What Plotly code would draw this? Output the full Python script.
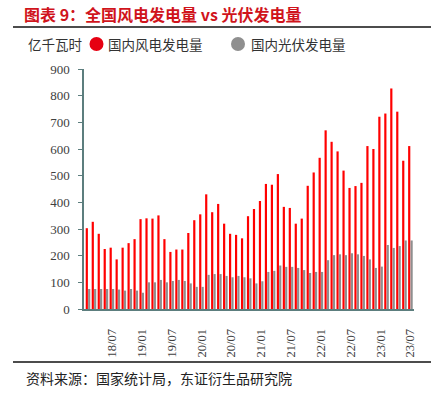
import plotly.graph_objects as go

# ---------------- data ----------------
categories = [
    "18/03", "18/04", "18/05", "18/06", "18/07", "18/08", "18/09", "18/10", "18/11", "18/12",
    "19/03", "19/04", "19/05", "19/06", "19/07", "19/08", "19/09", "19/10", "19/11", "19/12",
    "20/03", "20/04", "20/05", "20/06", "20/07", "20/08", "20/09", "20/10", "20/11", "20/12",
    "21/03", "21/04", "21/05", "21/06", "21/07", "21/08", "21/09", "21/10", "21/11", "21/12",
    "22/03", "22/04", "22/05", "22/06", "22/07", "22/08", "22/09", "22/10", "22/11", "22/12",
    "23/03", "23/04", "23/05", "23/06", "23/07",
]
wind = [
    303, 327, 282, 225, 230, 186, 230, 247, 262, 337,
    340, 339, 351, 262, 214, 223, 223, 285, 333, 355,
    430, 363, 394, 320, 282, 278, 265, 348, 375, 405,
    469, 466, 506, 383, 379, 320, 339, 462, 512, 567,
    670, 627, 591, 519, 454, 461, 473, 611, 600, 721,
    733, 827, 740, 556, 611,
]
solar = [
    75, 75, 75, 75, 75, 73, 69, 75, 69, 61,
    100, 100, 109, 100, 105, 109, 105, 96, 83, 83,
    128, 131, 131, 124, 119, 124, 119, 115, 96, 104,
    139, 143, 163, 158, 158, 154, 146, 135, 139, 139,
    183, 202, 205, 202, 209, 205, 199, 186, 154, 159,
    240, 229, 236, 257, 257,
]
tick_labels = ["18/07", "19/01", "19/07", "20/01", "20/07", "21/01",
               "21/07", "22/01", "22/07", "23/01", "23/07"]
tick_positions = categories[4::5]

wind_name = "国内风电发电量"
solar_name = "国内光伏发电量"
unit_label = "亿千瓦时"
title_text = "图表 9：全国风电发电量 vs 光伏发电量"
source_text = "资料来源：国家统计局，东证衍生品研究院"

# ---------------- layout helpers (page pixel coords) ----------------
W, H = 438, 396
PL, PR, PT, PB = 84, 414, 69, 309    # plot box in pixels
L, T, R, B = PL, PT, W - PR, H - PB
PW, PH = PR - PL, PB - PT


def px(x):
    return (x - PL) / PW


def py(y):
    return (PB - y) / PH


CJK = "Noto Sans CJK SC"
SERIF = "Liberation Serif"
RED = "#ff0000"
GRAY = "#8f8f8f"
AXIS = "#5c7e7e"

fig = go.Figure()
fig.add_trace(go.Bar(x=categories, y=wind, name=wind_name,
                     marker=dict(color=RED, line=dict(width=0))))
fig.add_trace(go.Bar(x=categories, y=solar, name=solar_name,
                     marker=dict(color=GRAY, line=dict(width=0))))

annotations = [
    dict(text=f"<b>{title_text}</b>", x=px(22), y=py(14), xref="paper", yref="paper",
         xanchor="left", yanchor="middle", showarrow=False,
         font=dict(family=CJK, size=16, color="#d0141c")),
    dict(text=unit_label, x=px(26), y=py(44), xref="paper", yref="paper",
         xanchor="left", yanchor="middle", showarrow=False,
         font=dict(family=CJK, size=13.5, color="#333333")),
    dict(text=wind_name, x=px(106), y=py(44), xref="paper", yref="paper",
         xanchor="left", yanchor="middle", showarrow=False,
         font=dict(family=CJK, size=13.5, color="#333333")),
    dict(text=solar_name, x=px(249), y=py(44), xref="paper", yref="paper",
         xanchor="left", yanchor="middle", showarrow=False,
         font=dict(family=CJK, size=13.5, color="#333333")),
    dict(text=source_text, x=px(24), y=py(378), xref="paper", yref="paper",
         xanchor="left", yanchor="middle", showarrow=False,
         font=dict(family=CJK, size=14, color="#222222")),
]

shapes = [
    dict(type="line", xref="paper", yref="paper", x0=px(13), x1=px(431), y0=py(27), y1=py(27),
         line=dict(color="#111111", width=1.5)),
    dict(type="line", xref="paper", yref="paper", x0=px(13), x1=px(431), y0=py(362), y1=py(362),
         line=dict(color="#111111", width=1.5)),
    dict(type="circle", xref="paper", yref="paper", x0=px(89.5), x1=px(103.5), y0=py(51), y1=py(37),
         fillcolor="#e60012", line=dict(width=0)),
    dict(type="circle", xref="paper", yref="paper", x0=px(231), x1=px(245), y0=py(51), y1=py(37),
         fillcolor=GRAY, line=dict(width=0)),
]

fig.update_layout(
    width=W, height=H,
    margin=dict(l=L, r=R, t=T, b=B, pad=0),
    paper_bgcolor="white", plot_bgcolor="white",
    barmode="group", bargap=0.2, bargroupgap=0.08,
    showlegend=False,
    annotations=annotations,
    shapes=shapes,
    font=dict(family=SERIF, color="#404040"),
)
fig.update_xaxes(
    type="category", range=[-0.67, 54.6],
    tickmode="array", tickvals=tick_positions, ticktext=tick_labels,
    tickangle=-90, ticks="", ticklabelstandoff=13,
    tickfont=dict(family=SERIF, size=12.5, color="#404040"),
    showline=True, linecolor=AXIS, linewidth=2, showgrid=False, zeroline=False,
)
fig.update_yaxes(
    range=[0, 900], tickvals=[0, 100, 200, 300, 400, 500, 600, 700, 800, 900],
    ticks="outside", ticklen=4, tickcolor=AXIS, tickwidth=1.2, ticklabelstandoff=6,
    tickfont=dict(family=SERIF, size=13, color="#404040"),
    showline=True, linecolor=AXIS, linewidth=1.5, showgrid=False, zeroline=False,
)

fig.write_html("out.html", config={"displayModeBar": False},
               post_script="document.body.style.margin='0';")
